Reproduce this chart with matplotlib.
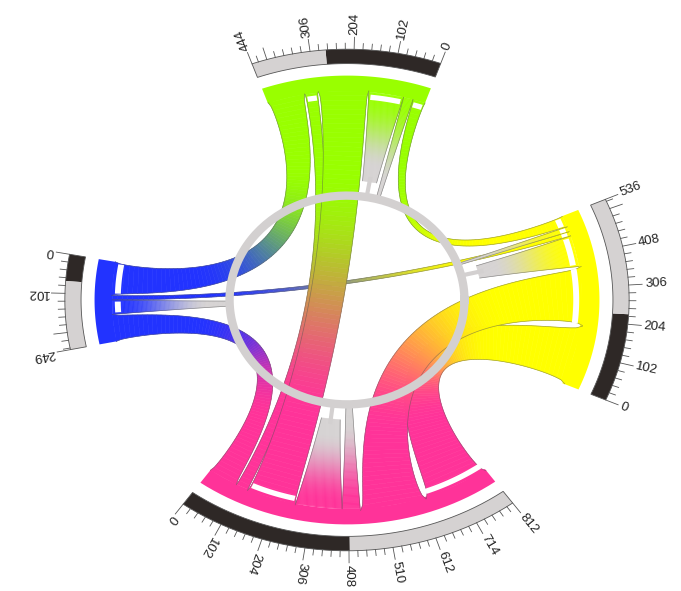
import numpy as np
import matplotlib.pyplot as plt
from matplotlib.collections import PolyCollection
from matplotlib.patches import Polygon
from matplotlib.colors import to_rgb

# segments, counter-clockwise: green (top), blue (left), magenta (bottom), yellow (right)
seg_size = [444, 249, 812, 536]
seg_split = [270, 70, 410, 230]          # dark part of the scale bar
seg_colors = ['#99ff00', '#2233ff', '#ff3399', '#ffff00']

# links: from segment/start to segment/start (-1 = runs into the inner ring), width
link_a = [1, 0, 0, 1, 2, 2, 3, 3, 1, 0, 0, 2, 2, 0, 0]
link_a0 = [105, 62, 35, 119, 260, 390, 372, 484, 164, 338, 0, 625, 440, 302, 160]
link_b = [3, -1, -1, -1, -1, -1, -1, -1, 2, 1, 3, 3, 3, 2, 2]
link_b0 = [470, 0, 0, 0, 0, 0, 0, 0, 0, 0, 500, 0, 187, 85, 120]
link_val = [14, 98, 27, 45, 130, 50, 98, 16, 85, 105, 35, 187, 185, 35, 140]
notch_a = [0, 1, 0, 1, 0, 0, 1, 1, 0, 0, 1, 1, 0, 1, 0]
notch_b = [1, 0, 0, 0, 0, 0, 0, 0, 0, 1, 1, 0, 1, 0, 1]

tick_step = 102

# layout
SEG_START = [70.6, 169.5, 234.5, -23.5]
DEG_PER = 0.088
R_IN, R_IDEO = 0.87, 0.935
R_BAND0, R_BAND1 = 0.985, 1.045
R_RING = 0.435
RB = 0.30
SX, SY = 270.0, 240.0          # px per unit, the picture is stretched sideways
GREY = np.array(to_rgb('#d6d3d3'))


def ang(seg, v):
    return np.radians(SEG_START[seg] + DEG_PER * v)


def pol(r, th):
    return np.array([r * np.cos(th), r * np.sin(th)])


def arc(r, th0, th1, n=40):
    th = np.linspace(th0, th1, n)
    return np.c_[r * np.cos(th), r * np.sin(th)]


def band(ax, seg, v0, v1, r0, r1, color, z=2, ec='none', lw=0):
    a0, a1 = ang(seg, v0), ang(seg, v1)
    pts = np.vstack([arc(r1, a0, a1), arc(r0, a1, a0)])
    ax.add_patch(Polygon(pts, closed=True, fc=color, ec=ec, lw=lw, zorder=z))


def bez(p0, p1, p2, p3, t):
    t = t[:, None]
    pt = ((1 - t) ** 3 * p0 + 3 * (1 - t) ** 2 * t * p1
          + 3 * (1 - t) * t ** 2 * p2 + t ** 3 * p3)
    d = (3 * (1 - t) ** 2 * (p1 - p0) + 6 * (1 - t) * t * (p2 - p1)
         + 3 * t ** 2 * (p3 - p2))
    return pt, d


def draw_ribbon(ax, E1, E2, c1, c2, z, lo=0.2, hi=0.8):
    n = len(E1)
    t = np.linspace(0, 1, n)
    tm = (t[:-1] + t[1:]) / 2
    s = np.clip((tm - lo) / (hi - lo), 0, 1)
    s = s * s * (3 - 2 * s)
    cols = (1 - s)[:, None] * c1 + s[:, None] * c2
    quads = [[E1[i], E1[i + 1], E2[i + 1], E2[i]] for i in range(n - 1)]
    ax.add_collection(PolyCollection(quads, facecolors=cols, edgecolors=cols,
                                     linewidths=0.4, zorder=z))
    for E in (E1, E2):
        ax.plot(E[:, 0], E[:, 1], color='#555555', lw=0.5, alpha=0.55, zorder=z)


def notch(ax, seg, v0, val):
    inset = min(0.12 * val, 6)
    band(ax, seg, v0 + inset, v0 + val - inset, R_IN - 0.032, R_IN - 0.01, 'white', z=4)


fig = plt.figure(figsize=(6.81, 5.91), dpi=100)
ax = fig.add_axes([0, 0, 1, 1])
ax.set_xlim(-347 / SX, 334 / SX)
ax.set_ylim(-291 / SY, 300 / SY)
ax.axis('off')

# ideograms and scale bars
for i, size in enumerate(seg_size):
    band(ax, i, 0, size, R_IN, R_IDEO, seg_colors[i])
    band(ax, i, 0, seg_split[i], R_BAND0, R_BAND1, '#2e2826')
    band(ax, i, seg_split[i], size, R_BAND0, R_BAND1, '#d5d2d2')
    band(ax, i, 0, size, R_BAND0, R_BAND1, 'none', z=3, ec='#555555', lw=0.6)

    minor = np.arange(0, size + 0.1, tick_step / 5)
    for v in list(minor) + [size]:
        major = abs(v / tick_step - round(v / tick_step)) < 1e-6 or v == size
        r1 = R_BAND1 + (0.05 if major else 0.025)
        th = ang(i, v)
        ax.plot([R_BAND1 * np.cos(th), r1 * np.cos(th)],
                [R_BAND1 * np.sin(th), r1 * np.sin(th)],
                color='#555555', lw=0.6, zorder=3)

    labels = [v for v in range(0, size, tick_step) if size - v > 50] + [size]
    for v in labels:
        th = ang(i, v)
        rot = np.degrees(np.arctan2(SY * np.sin(th), SX * np.cos(th)))
        ax.text(1.105 * np.cos(th), 1.105 * np.sin(th), str(v), rotation=rot,
                rotation_mode='anchor', ha='left', va='center',
                fontsize=9.5, family='Liberation Sans', color='#222222')

# links
t = np.linspace(0, 1, 90)
for k in range(len(link_val)):
    a, a0, b, b0, val = link_a[k], link_a0[k], link_b[k], link_b0[k], link_val[k]
    ca = np.array(to_rgb(seg_colors[a]))
    a1, a2 = ang(a, a0), ang(a, a0 + val)
    z = 2 + k * 0.01
    if b < 0:
        r_end = R_RING + 0.01 if val < 60 else 0.50
        r = R_IN - (R_IN - r_end) * t
        mid = (a1 + a2) / 2
        half = (a2 - a1) / 2 * (1 - 0.3 * t)
        E1 = np.c_[r * np.cos(mid - half), r * np.sin(mid - half)]
        E2 = np.c_[r * np.cos(mid + half), r * np.sin(mid + half)]
        draw_ribbon(ax, E1, E2, ca, GREY, z, 0.05, 0.85)
        if val >= 60:
            ax.plot([R_RING * np.cos(mid), 0.52 * np.cos(mid)],
                    [R_RING * np.sin(mid), 0.52 * np.sin(mid)],
                    color='#d3d0d0', lw=3, solid_capstyle='butt', zorder=z)
    else:
        cb = np.array(to_rgb(seg_colors[b]))
        b1, b2 = ang(b, b0), ang(b, b0 + val)
        am, bm = (a1 + a2) / 2, (b1 + b2) / 2
        c, d = bez(pol(R_IN, am), pol(RB, am), pol(RB, bm), pol(R_IN, bm), t)
        nrm = np.c_[-d[:, 1], d[:, 0]] / np.hypot(d[:, 0], d[:, 1])[:, None]
        dist = abs((np.degrees(bm - am) + 180) % 360 - 180)
        squeeze = 0.62 - 0.32 * dist / 180
        w = 2 * R_IN * np.sin((a2 - a1) / 2) * (1 - squeeze * np.sin(np.pi * t) ** 0.5)
        E1 = c + nrm * (w / 2)[:, None]
        E2 = c - nrm * (w / 2)[:, None]
        draw_ribbon(ax, E1, E2, ca, cb, z)
        ax.add_patch(Polygon(arc(R_IN, b1, b2), closed=True, fc=cb, lw=0, zorder=z))
        if notch_b[k]:
            notch(ax, b, b0, val)
    ax.add_patch(Polygon(arc(R_IN, a1, a2), closed=True, fc=ca, lw=0, zorder=z))
    if notch_a[k]:
        notch(ax, a, a0, val)

# inner ring
ring = arc(R_RING, 0, 2 * np.pi, 200)
ax.plot(ring[:, 0], ring[:, 1], color='#d3d0d0', lw=6, zorder=5)

fig.savefig('out.png', dpi=100, facecolor='white')
